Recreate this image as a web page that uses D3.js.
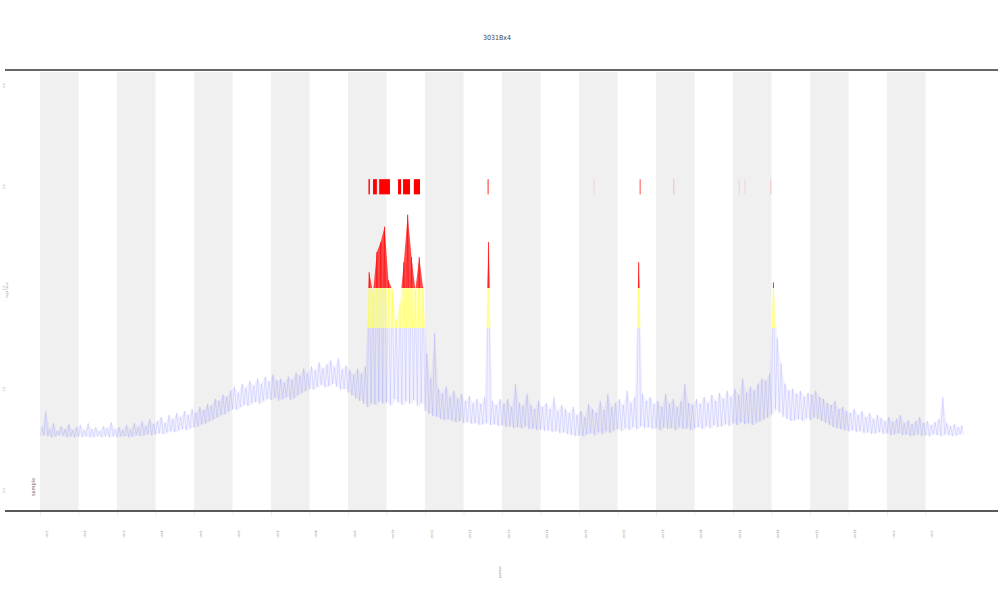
<!DOCTYPE html>
<html><head><meta charset="utf-8">
<script src="https://cdn.jsdelivr.net/npm/d3@7"></script>
<style>body{margin:0;background:#fff}svg{display:block}</style>
</head><body>
<svg id="c" width="1000" height="600"></svg>
<script>
// ---- data ----
const chromosomes = ["chr1","chr2","chr3","chr4","chr5","chr6","chr7","chr8","chr9","chr10","chr11","chr12",
  "chr13","chr14","chr15","chr16","chr17","chr18","chr19","chr20","chr21","chr22","chrX","chrY"];
const yTicks = [0, 1, 2, 3, 4];
const binWidth = 0.1; // genome units per bin (1 unit = 1 chromosome slot)
// lower envelope of the ratio signal per bin
const ratioLow = [
0.53,0.54,0.53,0.52,0.53,0.54,0.53,0.52,0.53,0.52,
0.53,0.52,0.53,0.52,0.52,0.53,0.52,0.53,0.52,0.53,
0.52,0.53,0.53,0.52,0.53,0.54,0.53,0.54,0.55,0.54,
0.55,0.56,0.55,0.57,0.58,0.57,0.59,0.60,0.59,0.61,
0.62,0.63,0.65,0.66,0.68,0.70,0.72,0.74,0.75,0.78,
0.80,0.79,0.82,0.84,0.83,0.86,0.87,0.85,0.88,0.90,
0.89,0.91,0.88,0.90,0.92,0.89,0.91,0.94,0.96,0.98,
1.00,0.99,1.02,1.04,1.01,1.03,1.05,1.02,0.99,1.00,
0.96,0.93,0.90,0.88,0.85,0.82,0.86,0.84,0.88,0.85,
0.87,0.83,0.90,0.86,0.84,0.88,0.85,0.89,0.83,0.86,
0.78,0.75,0.73,0.72,0.70,0.69,0.70,0.68,0.67,0.68,
0.66,0.67,0.65,0.66,0.64,0.65,0.66,0.64,0.65,0.63,
0.64,0.62,0.63,0.61,0.62,0.61,0.63,0.60,0.61,0.59,
0.60,0.58,0.59,0.57,0.58,0.56,0.57,0.55,0.54,0.53,
0.54,0.53,0.55,0.56,0.54,0.57,0.55,0.58,0.56,0.59,
0.60,0.58,0.61,0.59,0.62,0.60,0.63,0.61,0.62,0.60,
0.61,0.59,0.62,0.60,0.61,0.59,0.62,0.60,0.61,0.59,
0.61,0.62,0.60,0.63,0.61,0.64,0.62,0.63,0.65,0.63,
0.66,0.64,0.67,0.65,0.66,0.64,0.67,0.68,0.70,0.72,
0.75,0.80,0.76,0.72,0.70,0.68,0.69,0.70,0.68,0.71,
0.69,0.72,0.70,0.68,0.66,0.64,0.62,0.61,0.60,0.59,
0.58,0.59,0.57,0.58,0.56,0.57,0.55,0.56,0.57,0.55,
0.56,0.54,0.55,0.56,0.54,0.55,0.53,0.54,0.55,0.53,
0.54,0.53,0.55,0.54,0.53,0.55,0.54,0.53,0.54,0.55];
// upper envelope (spike tops) per bin
const ratioHigh = [
0.62,0.78,0.60,0.66,0.58,0.63,0.60,0.65,0.59,0.62,
0.64,0.59,0.66,0.60,0.62,0.58,0.63,0.61,0.67,0.60,
0.62,0.59,0.64,0.60,0.66,0.62,0.68,0.63,0.70,0.65,
0.68,0.72,0.66,0.74,0.70,0.76,0.72,0.78,0.74,0.80,
0.76,0.82,0.79,0.85,0.83,0.90,0.88,0.94,0.92,0.98,
1.02,0.96,1.05,1.01,1.08,1.03,1.10,1.05,1.12,1.07,
1.14,1.08,1.10,1.06,1.12,1.09,1.16,1.13,1.20,1.15,
1.22,1.18,1.26,1.20,1.24,1.28,1.21,1.30,1.19,1.23,
1.18,1.14,1.20,1.15,1.22,2.15,1.95,2.35,2.45,2.60,
2.07,1.98,1.68,1.85,2.25,2.72,2.30,1.98,2.30,2.00,
1.35,1.10,1.55,1.00,0.95,1.02,0.92,0.98,0.90,0.95,
0.88,0.93,0.86,0.90,0.85,0.92,2.45,0.88,0.84,0.90,
0.85,0.90,0.82,1.05,0.86,0.83,0.95,0.84,0.80,0.88,
0.82,0.86,0.80,0.92,0.78,0.84,0.80,0.76,0.82,0.74,
0.78,0.72,0.85,0.80,0.76,0.88,0.79,0.95,0.82,0.86,
0.90,0.84,0.98,0.86,0.92,2.25,0.95,0.88,0.92,0.85,
0.88,0.82,0.95,0.85,0.90,0.82,0.88,1.05,0.86,0.84,
0.90,0.85,0.92,0.86,0.94,0.88,0.96,0.90,0.98,0.92,
1.00,0.94,1.10,0.96,1.02,0.98,1.05,1.10,1.08,1.15,
2.05,1.50,1.25,1.05,0.98,1.00,0.95,0.98,0.92,0.96,
0.94,0.98,0.92,0.90,0.86,0.84,0.88,0.80,0.82,0.78,
0.76,0.80,0.74,0.78,0.72,0.76,0.70,0.74,0.71,0.68,
0.72,0.67,0.70,0.74,0.66,0.69,0.65,0.68,0.72,0.66,
0.68,0.64,0.67,0.70,0.92,0.66,0.63,0.65,0.62,0.64];
// flagged (amplified) segments: start, end in genome units, and strength
const flagStart = [8.53, 8.65, 8.81, 9.30, 9.43, 9.71, 11.62, 14.38, 15.57, 16.45, 18.15, 18.30, 18.97];
const flagEnd   = [8.57, 8.75, 9.09, 9.38, 9.61, 9.87, 11.66, 14.40, 15.61, 16.47, 18.17, 18.32, 18.99];
const flagAlpha = [0.9, 1, 1, 1, 1, 1, 0.55, 0.12, 0.45, 0.22, 0.12, 0.12, 0.18];
const flagLevel = 3.0;
const gainLevel = 1.6, ampLevel = 2.0;

// ---- layout ----
const svg = d3.select("#c");
const plotTop = 71, plotBottom = 511, plotLeft = 5, plotRight = 998;
const x = d3.scaleLinear().domain([0, 24]).range([40, 964]);
const y = d3.scaleLinear().domain([0, 4]).range([490, 85]);

// alternating chromosome bands
svg.append("g").selectAll("rect").data(d3.range(0, chromosomes.length, 2))
  .join("rect")
  .attr("x", i=>x(i)).attr("width", i=>x(i+1)-x(i))
  .attr("y", plotTop+1).attr("height", plotBottom-plotTop-2)
  .attr("fill", "#f0f0f0");

// colour gradient by value
const defs = svg.append("defs");
function grad(id, blueOp, yelOp, redOp) {
  const g = defs.append("linearGradient").attr("id", id)
    .attr("gradientUnits","userSpaceOnUse")
    .attr("x1",0).attr("x2",0).attr("y1",y(0)).attr("y2",y(4));
  const o1 = gainLevel/4, o2 = ampLevel/4;
  [[0,"#6a6aff",blueOp],[o1,"#6a6aff",blueOp],[o1,"#ffff30",yelOp],[o2,"#ffff30",yelOp],[o2,"#ff0000",redOp],[1,"#ff0000",redOp]]
    .forEach(s=>g.append("stop").attr("offset",s[0]).attr("stop-color",s[1]).attr("stop-opacity",s[2]));
}
grad("gFill", 0.09, 0.3, 0.7);
grad("gLine", 0.32, 0.85, 0.95);

// area between envelopes
const bins = ratioLow.map((lo,i)=>({u:i*binWidth, lo, hi:ratioHigh[i]}));
svg.append("path").datum(bins)
  .attr("d", d3.area().x(d=>x(d.u+binWidth/2)).y0(d=>y(d.lo)).y1(d=>y(d.hi)))
  .attr("fill","url(#gFill)");

// zig-zag signal line
const pts = [];
bins.forEach(d=>{ pts.push([d.u, d.lo]); pts.push([d.u+binWidth/2, d.hi]); });
pts.push([24 - 0.02, ratioLow[ratioLow.length-1]]);
svg.append("path").datum(pts)
  .attr("d", d3.line().x(d=>x(d[0])).y(d=>y(d[1])))
  .attr("fill","none").attr("stroke","url(#gLine)").attr("stroke-width",0.55);

// flagged segments
svg.append("g").selectAll("rect").data(flagStart.map((s,i)=>({s, e:flagEnd[i], a:flagAlpha[i]})))
  .join("rect")
  .attr("x", d=>x(d.s)).attr("width", d=>Math.max(1, x(d.e)-x(d.s)))
  .attr("y", y(flagLevel+0.07)).attr("height", y(flagLevel-0.08)-y(flagLevel+0.07))
  .attr("fill","#ff0000").attr("fill-opacity", d=>d.a);

// frame lines
svg.append("line").attr("x1",plotLeft).attr("x2",plotRight).attr("y1",plotTop-1).attr("y2",plotTop-1)
  .attr("stroke","#666").attr("stroke-width",2);
svg.append("line").attr("x1",plotLeft).attr("x2",plotRight).attr("y1",plotBottom).attr("y2",plotBottom)
  .attr("stroke","#222").attr("stroke-width",1.5);

// x axis
const xAxis = d3.axisBottom(x).tickValues(d3.range(chromosomes.length))
  .tickFormat(i=>chromosomes[i]).tickSize(4).tickPadding(2);
const gx = svg.append("g").attr("transform",`translate(0,${plotBottom+1})`).call(xAxis);
gx.select(".domain").remove();
gx.selectAll(".tick line").attr("stroke","#ddd").attr("stroke-width",0.5);
gx.selectAll(".tick text").attr("font-family","DejaVu Sans").attr("font-size",3.2).attr("fill","#888")
  .attr("transform","translate(0,22) rotate(-90)").attr("text-anchor","middle").attr("dy","0.35em");

// y axis
const yAxis = d3.axisLeft(y).tickValues(yTicks).tickSize(0).tickPadding(0);
const gy = svg.append("g").attr("transform","translate(6,0)").call(yAxis);
gy.select(".domain").remove();
gy.selectAll(".tick text").attr("font-family","DejaVu Sans").attr("font-size",3.2).attr("fill","#aaa")
  .attr("transform","rotate(-90)").attr("x",0).attr("text-anchor","middle").attr("dy","-0.3em");

// labels
svg.append("text").attr("x",497).attr("y",40).attr("text-anchor","middle")
  .attr("font-family","Liberation Sans Narrow, DejaVu Sans Condensed, sans-serif").attr("font-size",7)
  .attr("fill","#444").text("3031Bx4");
svg.append("text").attr("transform","translate(501,572) rotate(-90)").attr("text-anchor","middle")
  .attr("font-family","DejaVu Sans").attr("font-size",3.2).attr("fill","#888").text("position");
svg.append("text").attr("transform","translate(8,290) rotate(-90)").attr("text-anchor","middle")
  .attr("font-family","DejaVu Sans").attr("font-size",3.2).attr("fill","#999").text("log2 ratio");
svg.append("text").attr("transform","translate(35,487) rotate(-90)").attr("text-anchor","middle")
  .attr("font-family","DejaVu Sans").attr("font-size",5).attr("fill","#666").text("sample");
</script>
</body></html>
